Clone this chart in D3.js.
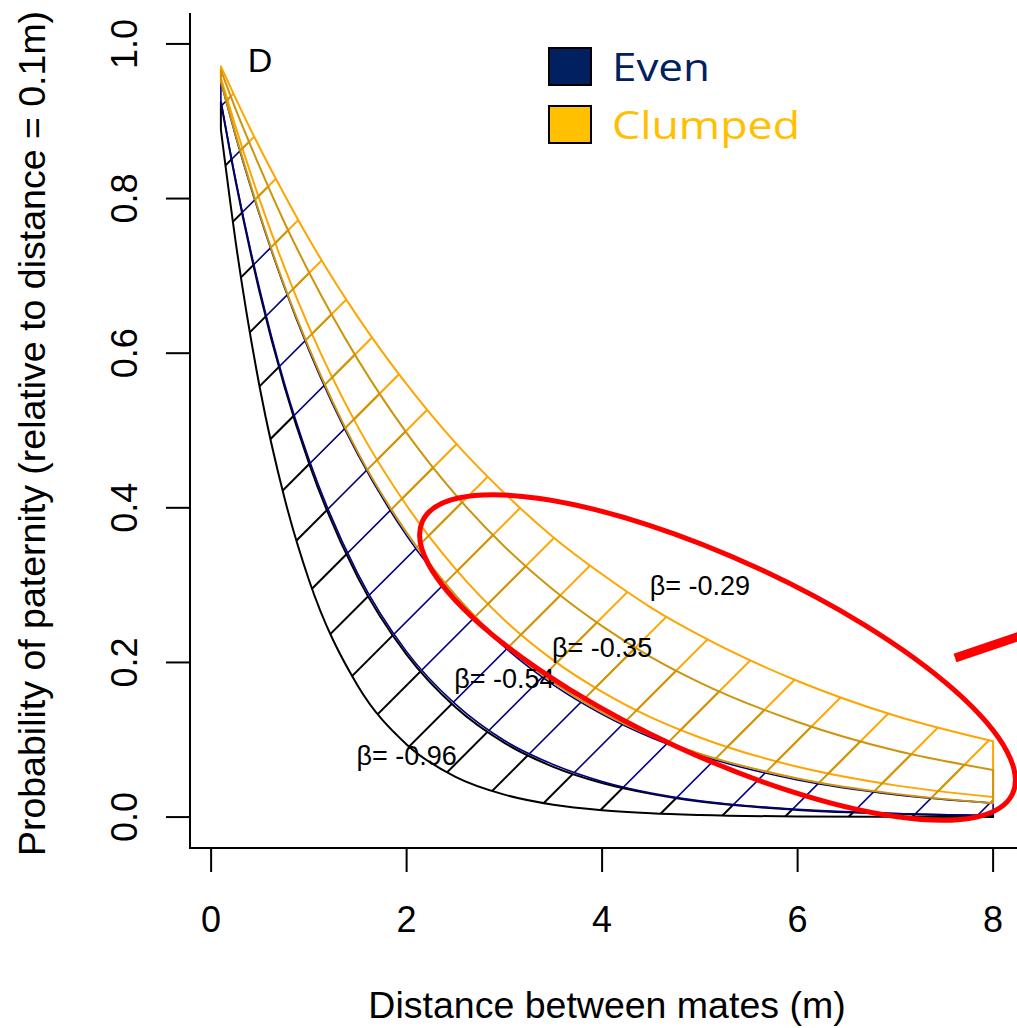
<!DOCTYPE html>
<html>
<head>
<meta charset="utf-8">
<script src="https://cdn.jsdelivr.net/npm/d3@7"></script>
<style>
  body { margin: 0; background: #fff; }
  svg { display: block; }
</style>
</head>
<body>
<div id="chart"></div>
<script>
const distances = [0.1, 0.25, 0.5, 0.75, 1, 1.5, 2, 2.5, 3, 3.5, 4, 4.5, 5, 6, 7, 8];

// Even: black band (lower / upper edge)
const blackLow  = [0.889, 0.745, 0.554, 0.413, 0.307, 0.170, 0.094, 0.052, 0.029, 0.016, 0.0089, 0.0049, 0.0027, 0.0008, 0.0003, 0.0001];
const blackHigh = [0.925, 0.823, 0.677, 0.557, 0.458, 0.310, 0.210, 0.142, 0.096, 0.065, 0.044, 0.030, 0.020, 0.0093, 0.0043, 0.0019];
// Even: navy band
const navyLow   = [0.926, 0.825, 0.681, 0.561, 0.463, 0.315, 0.214, 0.146, 0.099, 0.068, 0.046, 0.031, 0.021, 0.0099, 0.0046, 0.0021];
const navyHigh  = [0.951, 0.881, 0.777, 0.685, 0.604, 0.469, 0.364, 0.283, 0.220, 0.171, 0.133, 0.103, 0.080, 0.048, 0.029, 0.018];
// Clumped: orange band
const orangeLow  = [0.956, 0.893, 0.797, 0.711, 0.634, 0.505, 0.403, 0.321, 0.255, 0.203, 0.162, 0.129, 0.103, 0.065, 0.041, 0.026];
const orangeHigh = [0.971, 0.930, 0.865, 0.805, 0.748, 0.647, 0.560, 0.484, 0.419, 0.362, 0.314, 0.271, 0.235, 0.176, 0.131, 0.098];
// Clumped: dark golden band
const goldLow  = [0.951, 0.883, 0.779, 0.687, 0.607, 0.472, 0.368, 0.287, 0.223, 0.174, 0.135, 0.105, 0.082, 0.050, 0.030, 0.018];
const goldHigh = [0.966, 0.916, 0.840, 0.769, 0.705, 0.592, 0.497, 0.417, 0.350, 0.294, 0.247, 0.207, 0.174, 0.123, 0.086, 0.061];

const betaLabels = ["β= -0.96", "β= -0.54", "β= -0.35", "β= -0.29"];
const betaX = [2, 3, 4, 5];
const betaY = [0.08, 0.18, 0.22, 0.30];

const xTicks = [0, 2, 4, 6, 8];
const yTicks = [0, 0.2, 0.4, 0.6, 0.8, 1.0];

const legendNames = ["Even", "Clumped"];
const legendColors = ["#002060", "#FFC000"];

const width = 1017;
const height = 1028;
const font = "'Liberation Sans', Arial, sans-serif";

const x = d3.scaleLinear().domain([-0.216, 8.316]).range([190, 1024]);
const y = d3.scaleLinear().domain([-0.04, 1.04]).range([848, 13]);

const svg = d3
  .select("#chart")
  .append("svg")
  .attr("width", width)
  .attr("height", height);

const bands = [
  { id: "black", low: blackLow, high: blackHigh, color: "#000000", lw: 2 },
  { id: "navy", low: navyLow, high: navyHigh, color: "#000080", lw: 1.6 },
  { id: "orange", low: orangeLow, high: orangeHigh, color: "#FFA500", lw: 2 },
  { id: "gold", low: goldLow, high: goldHigh, color: "#CD950C", lw: 2 }
];

const area = d3
  .area()
  .curve(d3.curveMonotoneX)
  .x(d => x(d.d))
  .y0(d => y(d.lo))
  .y1(d => y(d.hi));

// hatch lines at 45 degrees, anchored on y = 0 like R's polygon(density=)
const hatchSpacing = 0.652;
const hatchIdx = d3.range(-16, 16);

const defs = svg.append("defs");

bands.forEach(band => {
  const pts = distances.map((d, i) => ({ d: d, lo: band.low[i], hi: band.high[i] }));
  const path = area(pts);

  defs
    .append("clipPath")
    .attr("id", "clip-" + band.id)
    .append("path")
    .attr("d", path);

  svg
    .append("g")
    .attr("clip-path", "url(#clip-" + band.id + ")")
    .selectAll("line")
    .data(hatchIdx)
    .enter()
    .append("line")
    .attr("x1", k => x(k * hatchSpacing))
    .attr("y1", y(0))
    .attr("x2", k => x(k * hatchSpacing) + 1100)
    .attr("y2", y(0) - 1100)
    .attr("stroke", band.color)
    .attr("stroke-width", band.lw);

  svg
    .append("path")
    .attr("d", path)
    .attr("fill", "none")
    .attr("stroke", band.color)
    .attr("stroke-width", band.lw)
    .attr("stroke-linejoin", "round");
});

// box (bty = "l")
svg
  .append("path")
  .attr("d", `M${x.range()[0]},${y.range()[1]}V${y.range()[0]}H${x.range()[1]}`)
  .attr("fill", "none")
  .attr("stroke", "#000")
  .attr("stroke-width", 2);

// x axis
const xAxis = svg.append("g").attr("transform", `translate(0,${y.range()[0]})`);
xAxis
  .selectAll("line")
  .data(xTicks)
  .enter()
  .append("line")
  .attr("x1", d => x(d))
  .attr("x2", d => x(d))
  .attr("y1", 0)
  .attr("y2", 24)
  .attr("stroke", "#000")
  .attr("stroke-width", 2);
xAxis
  .selectAll("text")
  .data(xTicks)
  .enter()
  .append("text")
  .attr("x", d => x(d))
  .attr("y", 84)
  .attr("text-anchor", "middle")
  .attr("font-family", font)
  .attr("font-size", 36)
  .text(d => d);

// y axis
const yAxis = svg.append("g").attr("transform", `translate(${x.range()[0]},0)`);
yAxis
  .selectAll("line")
  .data(yTicks)
  .enter()
  .append("line")
  .attr("x1", 0)
  .attr("x2", -24)
  .attr("y1", d => y(d))
  .attr("y2", d => y(d))
  .attr("stroke", "#000")
  .attr("stroke-width", 2);
yAxis
  .selectAll("text")
  .data(yTicks)
  .enter()
  .append("text")
  .attr("transform", d => `translate(-53,${y(d)}) rotate(-90)`)
  .attr("text-anchor", "middle")
  .attr("font-family", font)
  .attr("font-size", 36)
  .text(d => d3.format(".1f")(d));

// axis titles
svg
  .append("text")
  .attr("x", (x.range()[0] + x.range()[1]) / 2)
  .attr("y", 1018)
  .attr("text-anchor", "middle")
  .attr("font-family", font)
  .attr("font-size", 37.5)
  .text("Distance between mates (m)");

svg
  .append("text")
  .attr("transform", `translate(45,${(y.range()[0] + y.range()[1]) / 2 + 3}) rotate(-90)`)
  .attr("text-anchor", "middle")
  .attr("font-family", font)
  .attr("font-size", 37.5)
  .text("Probability of paternity (relative to distance = 0.1m)");

// panel letter
svg
  .append("text")
  .attr("x", x(0.5))
  .attr("y", y(0.98))
  .attr("dy", "0.36em")
  .attr("text-anchor", "middle")
  .attr("font-family", font)
  .attr("font-size", 34)
  .text("D");

// beta labels
svg
  .selectAll(".beta")
  .data(betaLabels)
  .enter()
  .append("text")
  .attr("class", "beta")
  .attr("x", (d, i) => x(betaX[i]))
  .attr("y", (d, i) => y(betaY[i]))
  .attr("dy", "0.36em")
  .attr("text-anchor", "middle")
  .attr("font-family", font)
  .attr("font-size", 27)
  .text(d => d);

// legend
const legend = svg
  .selectAll(".legend")
  .data(legendNames)
  .enter()
  .append("g")
  .attr("class", "legend")
  .attr("transform", (d, i) => `translate(549,${48 + i * 58})`);
legend
  .append("rect")
  .attr("width", 42)
  .attr("height", 37)
  .attr("fill", (d, i) => legendColors[i])
  .attr("stroke", "#000")
  .attr("stroke-width", 2);
legend
  .append("text")
  .attr("x", 63)
  .attr("y", 33)
  .attr("font-family", "'Open Sans', 'Noto Sans', sans-serif")
  .attr("font-size", 38)
  .attr("fill", (d, i) => legendColors[i])
  .attr("textLength", (d, i) => (i === 0 ? 98 : 188))
  .attr("lengthAdjust", "spacingAndGlyphs")
  .text(d => d);

// red annotation: ellipse and pointer
svg
  .append("ellipse")
  .attr("cx", 717.5)
  .attr("cy", 657.5)
  .attr("rx", 325)
  .attr("ry", 98)
  .attr("transform", "rotate(24.8,717.5,657.5)")
  .attr("fill", "none")
  .attr("stroke", "#FF0000")
  .attr("stroke-width", 5);

svg
  .append("line")
  .attr("x1", 955)
  .attr("y1", 658)
  .attr("x2", 1035)
  .attr("y2", 631)
  .attr("stroke", "#FF0000")
  .attr("stroke-width", 9);
</script>
</body>
</html>
